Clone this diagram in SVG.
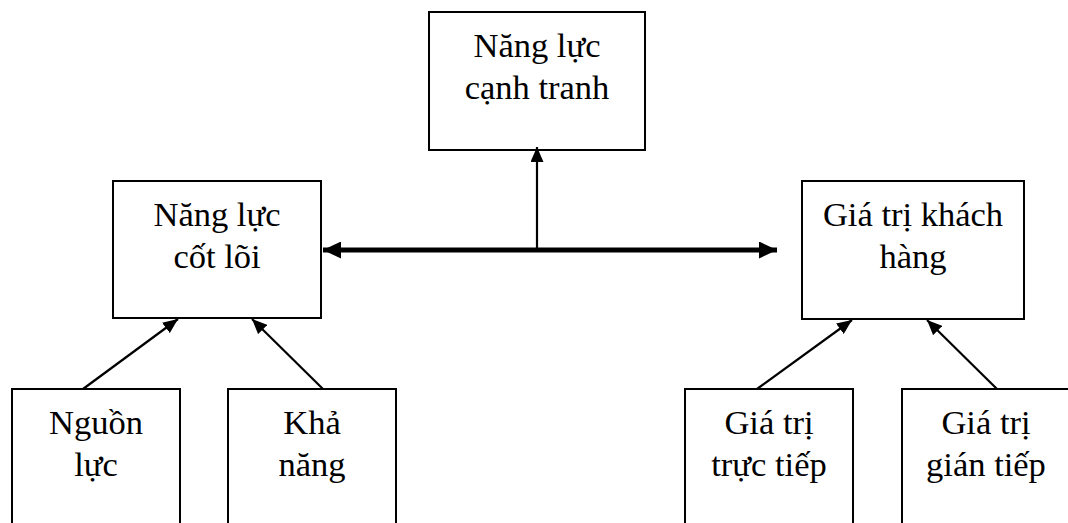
<svg xmlns="http://www.w3.org/2000/svg" width="1068" height="523" viewBox="0 0 1068 523">
  <style>
    .box { fill: #ffffff; stroke: #000000; stroke-width: 2; }
    .label { font-family: "Liberation Serif", "Times New Roman", serif; font-size: 34.5px; fill: #000000; text-anchor: middle; }
    .link { stroke: #000000; stroke-width: 2.2; fill: none; }
    .bus { stroke: #000000; stroke-width: 5; fill: none; }
  </style>
  <defs>
    <marker id="head" viewBox="0 0 10 10" refX="10" refY="5" markerWidth="15" markerHeight="13" markerUnits="userSpaceOnUse" orient="auto" preserveAspectRatio="none">
      <path d="M0,0 L10,5 L0,10 Z" fill="#000000"/>
    </marker>
    <marker id="headBold" viewBox="0 0 10 10" refX="10" refY="5" markerWidth="18" markerHeight="17" markerUnits="userSpaceOnUse" orient="auto-start-reverse" preserveAspectRatio="none">
      <path d="M0,0 L10,5 L0,10 Z" fill="#000000"/>
    </marker>
  </defs>

  <rect width="1068" height="523" fill="#ffffff"/>

  <g id="nang-luc-canh-tranh">
    <rect class="box" x="429" y="12" width="216" height="138"/>
    <text class="label" x="537" y="57">Năng lực</text>
    <text class="label" x="537" y="99">cạnh tranh</text>
  </g>

  <g id="nang-luc-cot-loi">
    <rect class="box" x="113" y="181" width="208" height="137"/>
    <text class="label" x="217" y="226">Năng lực</text>
    <text class="label" x="217" y="268">cốt lõi</text>
  </g>

  <g id="gia-tri-khach-hang">
    <rect class="box" x="802" y="181" width="222" height="138"/>
    <text class="label" x="913" y="226">Giá trị khách</text>
    <text class="label" x="913" y="268">hàng</text>
  </g>

  <g id="nguon-luc">
    <rect class="box" x="12" y="389" width="168" height="150"/>
    <text class="label" x="96" y="434">Nguồn</text>
    <text class="label" x="96" y="476">lực</text>
  </g>

  <g id="kha-nang">
    <rect class="box" x="228" y="389" width="168" height="150"/>
    <text class="label" x="312" y="434">Khả</text>
    <text class="label" x="312" y="476">năng</text>
  </g>

  <g id="gia-tri-truc-tiep">
    <rect class="box" x="685" y="389" width="168" height="150"/>
    <text class="label" x="769" y="434">Giá trị</text>
    <text class="label" x="769" y="476">trực tiếp</text>
  </g>

  <g id="gia-tri-gian-tiep">
    <rect class="box" x="902" y="389" width="168" height="150"/>
    <text class="label" x="986" y="434">Giá trị</text>
    <text class="label" x="986" y="476">gián tiếp</text>
  </g>

  <g id="connectors">
    <!-- two-way bus between the core capability and customer value boxes -->
    <line class="bus" x1="323" y1="250" x2="777" y2="250" marker-start="url(#headBold)" marker-end="url(#headBold)"/>
    <!-- bus up to competitive capability -->
    <line class="link" x1="537" y1="250" x2="537" y2="147" marker-end="url(#head)"/>
    <!-- inputs into core capability -->
    <line class="link" x1="83" y1="389" x2="178" y2="319" marker-end="url(#head)"/>
    <line class="link" x1="323" y1="389" x2="252" y2="319" marker-end="url(#head)"/>
    <!-- inputs into customer value -->
    <line class="link" x1="757" y1="389" x2="852" y2="320" marker-end="url(#head)"/>
    <line class="link" x1="997" y1="389" x2="927" y2="320" marker-end="url(#head)"/>
  </g>
</svg>
